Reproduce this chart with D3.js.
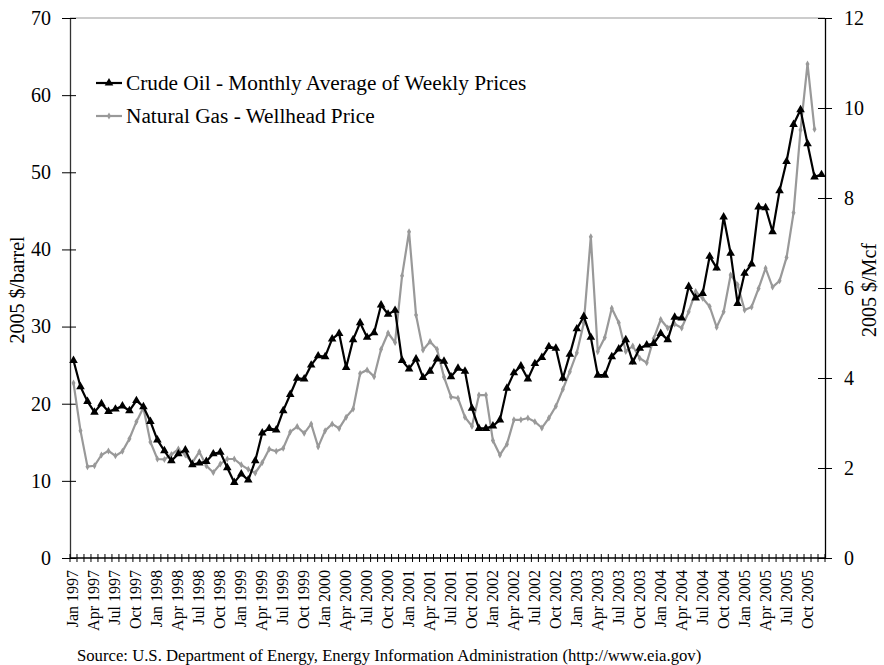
<!DOCTYPE html>
<html>
<head>
<meta charset="utf-8">
<script src="https://cdn.jsdelivr.net/npm/d3@7"></script>
<style>
  body { margin: 0; background: #fff; }
  svg text { font-family: "Liberation Serif", "Times New Roman", serif; fill: #000; }
</style>
</head>
<body>
<svg id="chart" width="884" height="665"></svg>
<script>
// monthly, Jan 1997 .. Dec 2005
var years = [1997, 1998, 1999, 2000, 2001, 2002, 2003, 2004, 2005]
var monthNames = ['Jan', 'Feb', 'Mar', 'Apr', 'May', 'Jun', 'Jul', 'Aug', 'Sep', 'Oct', 'Nov', 'Dec']

// 2005 $/barrel
var crudeOil = [
  25.6, 22.2, 20.3, 18.9, 20.0, 19.0, 19.3, 19.7, 19.1, 20.4, 19.6, 17.7,
  15.3, 13.9, 12.6, 13.5, 14.0, 12.1, 12.3, 12.5, 13.5, 13.7, 11.7, 9.8,
  10.9, 10.1, 12.6, 16.2, 16.8, 16.6, 19.1, 21.2, 23.3, 23.2, 25.0, 26.2,
  26.1, 28.4, 29.1, 24.7, 28.3, 30.5, 28.6, 29.2, 32.8, 31.6, 32.1, 25.6,
  24.5, 25.8, 23.4, 24.2, 25.8, 25.5, 23.5, 24.6, 24.2, 19.4, 16.8, 16.8,
  17.1, 17.9, 22.0, 24.0, 24.9, 23.2, 25.2, 26.0, 27.4, 27.2, 23.3, 26.4,
  29.7, 31.3, 28.6, 23.7, 23.7, 26.1, 27.1, 28.3, 25.4, 27.2, 27.6, 27.8,
  29.1, 28.3, 31.2, 31.1, 35.2, 33.7, 34.3, 39.1, 37.6, 44.2, 39.5, 33.0,
  36.9, 38.1, 45.5, 45.4, 42.3, 47.6, 51.4, 56.2, 58.1, 53.7, 49.4, 49.7
]

// 2005 $/Mcf, ends Nov 2005
var naturalGas = [
  3.89, 2.83, 2.03, 2.05, 2.29, 2.38, 2.27, 2.37, 2.65, 3.03, 3.34, 2.58,
  2.20, 2.19, 2.30, 2.42, 2.29, 2.12, 2.36, 2.05, 1.90, 2.09, 2.20, 2.20,
  2.07, 1.97, 1.89, 2.12, 2.42, 2.37, 2.44, 2.80, 2.92, 2.77, 2.98, 2.47,
  2.83, 2.98, 2.88, 3.13, 3.31, 4.10, 4.18, 4.03, 4.64, 5.00, 4.79, 6.27,
  7.25, 5.40, 4.62, 4.81, 4.64, 4.02, 3.58, 3.55, 3.13, 2.93, 3.62, 3.62,
  2.61, 2.29, 2.53, 3.07, 3.07, 3.11, 3.03, 2.89, 3.11, 3.37, 3.75, 4.14,
  4.56, 5.22, 7.14, 4.59, 4.90, 5.55, 5.23, 4.59, 4.71, 4.44, 4.34, 4.88,
  5.30, 5.11, 5.20, 5.11, 5.47, 5.92, 5.77, 5.59, 5.13, 5.47, 6.29, 6.07,
  5.51, 5.58, 5.99, 6.44, 6.02, 6.16, 6.68, 7.67, 9.51, 10.98, 9.53
]

var leftTicks = [0, 10, 20, 30, 40, 50, 60, 70]
var rightTicks = [0, 2, 4, 6, 8, 10, 12]

var seriesNames = ['Crude Oil - Monthly Average of Weekly Prices', 'Natural Gas - Wellhead Price']

var months = []
years.forEach(function (y) {
  monthNames.forEach(function (m) { months.push(m + ' ' + y) })
})
var labelMonths = months.filter(function (d, i) { return i % 3 === 0 })

var svg = d3.select('#chart')
var plotLeft = 70, plotRight = 825, plotTop = 18, plotBottom = 558

var x = d3.scaleBand().domain(months).range([plotLeft, plotRight]).padding(0)
var bw = x.bandwidth()
var yL = d3.scaleLinear().domain([0, 70]).range([plotBottom, plotTop])
var yR = d3.scaleLinear().domain([0, 12]).range([plotBottom, plotTop])

function cx(d) { return x(d) + bw / 2 }

// plot area top border
svg.append('line')
  .attr('x1', plotLeft).attr('x2', plotRight)
  .attr('y1', plotTop).attr('y2', plotTop)
  .attr('stroke', '#999').attr('stroke-width', 1)

// left axis
var gL = svg.append('g')
  .attr('transform', 'translate(' + plotLeft + ',0)')
  .call(d3.axisLeft(yL).tickValues(leftTicks).tickSizeOuter(0).tickPadding(13))
gL.select('.domain').attr('stroke', '#333').attr('stroke-width', 1.3)
gL.selectAll('.tick line').attr('x1', 6).attr('x2', -8).attr('stroke', '#000')
gL.selectAll('.tick text').style('font-size', '20px').style('font-family', '"Liberation Serif", serif')

// right axis
var gR = svg.append('g')
  .attr('transform', 'translate(' + plotRight + ',0)')
  .call(d3.axisRight(yR).tickValues(rightTicks).tickSizeOuter(0).tickPadding(13))
gR.select('.domain').attr('stroke', '#000').attr('stroke-width', 1.3)
gR.selectAll('.tick line').attr('x1', -7).attr('x2', 7).attr('stroke', '#000')
gR.selectAll('.tick text').style('font-size', '20px').style('font-family', '"Liberation Serif", serif')

// bottom axis: cross ticks on month boundaries
svg.append('line')
  .attr('x1', plotLeft).attr('x2', plotRight)
  .attr('y1', plotBottom).attr('y2', plotBottom)
  .attr('stroke', '#000').attr('stroke-width', 1.3)

var bounds = months.map(function (d) { return x(d) }).concat([plotRight])
svg.selectAll('line.mtick')
  .data(bounds)
  .enter().append('line')
  .attr('class', 'mtick')
  .attr('x1', function (d) { return d }).attr('x2', function (d) { return d })
  .attr('y1', plotBottom - 4).attr('y2', plotBottom + 4)
  .attr('stroke', '#000').attr('stroke-width', 1)

svg.selectAll('text.mlabel')
  .data(labelMonths)
  .enter().append('text')
  .attr('class', 'mlabel')
  .attr('transform', function (d) { return 'translate(' + (cx(d) + 5) + ',' + (plotBottom + 12) + ') rotate(-90)' })
  .attr('text-anchor', 'end')
  .style('font-size', '16px')
  .text(function (d) { return d })

// axis titles
svg.append('text')
  .attr('transform', 'translate(24,290) rotate(-90)')
  .attr('text-anchor', 'middle')
  .style('font-size', '20px')
  .text('2005 $/barrel')

svg.append('text')
  .attr('transform', 'translate(876,290) rotate(-90)')
  .attr('text-anchor', 'middle')
  .style('font-size', '20px')
  .text('2005 $/Mcf')

// lines
var crudeData = crudeOil.map(function (v, i) { return { m: months[i], v: v } })
var gasData = naturalGas.map(function (v, i) { return { m: months[i], v: v } })

var gasLine = d3.line().x(function (d) { return cx(d.m) }).y(function (d) { return yR(d.v) })
var crudeLine = d3.line().x(function (d) { return cx(d.m) }).y(function (d) { return yL(d.v) })

var gasColor = '#999999'

svg.append('path')
  .datum(gasData)
  .attr('d', gasLine)
  .attr('fill', 'none').attr('stroke', gasColor).attr('stroke-width', 2.2)

svg.selectAll('path.gasmark')
  .data(gasData)
  .enter().append('path')
  .attr('class', 'gasmark')
  .attr('transform', function (d) { return 'translate(' + cx(d.m) + ',' + yR(d.v) + ')' })
  .attr('d', d3.symbol().type(d3.symbolDiamond).size(14))
  .attr('fill', gasColor)

svg.append('path')
  .datum(crudeData)
  .attr('d', crudeLine)
  .attr('fill', 'none').attr('stroke', '#000').attr('stroke-width', 2.2)

svg.selectAll('path.crudemark')
  .data(crudeData)
  .enter().append('path')
  .attr('class', 'crudemark')
  .attr('transform', function (d) { return 'translate(' + cx(d.m) + ',' + yL(d.v) + ')' })
  .attr('d', d3.symbol().type(d3.symbolTriangle).size(32))
  .attr('fill', '#000')

// legend
var legend = svg.append('g')
var legY = [83, 116]
legend.append('line')
  .attr('x1', 96).attr('x2', 122).attr('y1', legY[0]).attr('y2', legY[0])
  .attr('stroke', '#000').attr('stroke-width', 2.2)
legend.append('path')
  .attr('transform', 'translate(109,' + legY[0] + ')')
  .attr('d', d3.symbol().type(d3.symbolTriangle).size(32))
legend.append('line')
  .attr('x1', 96).attr('x2', 122).attr('y1', legY[1]).attr('y2', legY[1])
  .attr('stroke', gasColor).attr('stroke-width', 2.2)
legend.append('path')
  .attr('transform', 'translate(109,' + legY[1] + ')')
  .attr('d', d3.symbol().type(d3.symbolDiamond).size(14))
  .attr('fill', gasColor)
legend.selectAll('text')
  .data(seriesNames)
  .enter().append('text')
  .attr('x', 126)
  .attr('y', function (d, i) { return legY[i] + 7 })
  .style('font-size', '21.3px')
  .text(function (d) { return d })

// source note
svg.append('text')
  .attr('x', 77).attr('y', 661)
  .style('font-size', '16.7px')
  .text('Source: U.S. Department of Energy, Energy Information Administration (http://www.eia.gov)')
</script>
</body>
</html>
